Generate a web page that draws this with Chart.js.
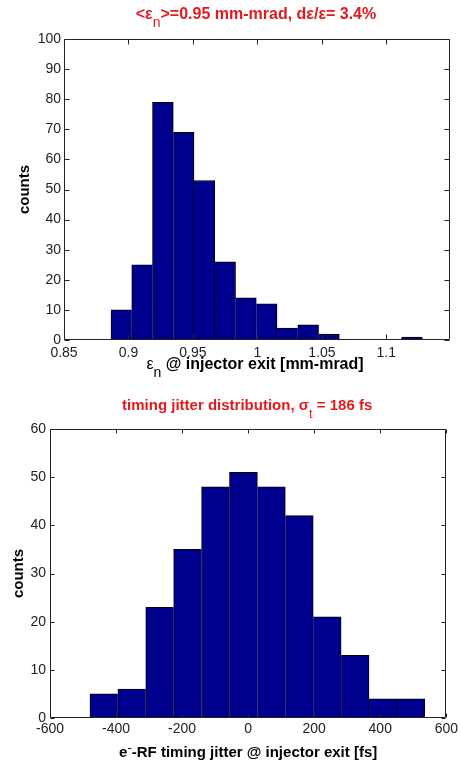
<!DOCTYPE html>
<html>
<head>
<meta charset="utf-8">
<script src="https://cdn.jsdelivr.net/npm/chart.js@4.4.1/dist/chart.umd.min.js"></script>
<style>
    html, body { margin: 0; padding: 0; background: #fff; }
    body { width: 461px; height: 765px; position: relative; overflow: hidden; }
    canvas { position: absolute; left: 0; }
    #emitChart { top: 0; }
    #jitterChart { top: 385px; }
</style>
</head>
<body>
<canvas id="emitChart" width="461" height="385"></canvas>
<canvas id="jitterChart" width="461" height="380"></canvas>
<script>
// ─── DATA ───
// emittance histogram (bin centres, mm-mrad)
const emitBins = [0.8945, 0.9106, 0.9267, 0.9428, 0.9589, 0.9750, 0.9911, 1.0072,
                  1.0233, 1.0394, 1.0555, 1.0716, 1.0877, 1.1038, 1.1199];
const emitCounts = [10, 25, 79, 69, 53, 26, 14, 12, 4, 5, 2, 0, 0, 0, 1];
const emitTicks = [0.85, 0.9, 0.95, 1, 1.05, 1.1];
const emitCountTicks = [0, 10, 20, 30, 40, 50, 60, 70, 80, 90, 100];

// timing jitter histogram (bin centres, fs)
const jitterBins = [-436.8, -352.3, -267.8, -183.3, -98.8, -14.3, 70.2, 154.7,
                    239.2, 323.7, 408.2, 492.7];
const jitterCounts = [5, 6, 23, 35, 48, 51, 48, 42, 21, 13, 4, 4];
const jitterTicks = [-600, -400, -200, 0, 200, 400, 600];
const jitterCountTicks = [0, 10, 20, 30, 40, 50, 60];

(function () {
    'use strict';

    const FONT = '"Liberation Sans", Arial, sans-serif';
    const BAR = '#00008f';
    const INK = '#222';
    const RED = '#e3191c';

    // ─── RICH TEXT (sub / superscripts) ───
    function drawRich(ctx, parts, cx, cy, size, color) {
        const fontOf = p => (p.sub || p.sup)
            ? `${size - 2}px ${FONT}`
            : `${p.normal ? '' : 'bold '}${size}px ${FONT}`;
        let w = 0;
        parts.forEach(p => { ctx.font = fontOf(p); w += ctx.measureText(p.t).width; });
        let x = cx - w / 2;
        ctx.fillStyle = color;
        ctx.textAlign = 'left';
        ctx.textBaseline = 'middle';
        parts.forEach(p => {
            ctx.font = fontOf(p);
            const dy = p.sub ? 8 : p.sup ? -5 : 0;
            ctx.fillText(p.t, x, cy + dy);
            x += ctx.measureText(p.t).width;
        });
    }

    // ─── MATLAB STYLE BOX + INNER TICKS + TITLES ───
    const matlabPlugin = {
        id: 'matlab',
        afterDraw(chart, args, o) {
            const { ctx, chartArea: a, scales: { x, y } } = chart;
            const L = o.tickLen;
            ctx.save();
            ctx.strokeStyle = INK;
            ctx.lineWidth = 1;
            const l = Math.round(a.left) + 0.5, r = Math.round(a.right) - 0.5;
            const t = Math.round(a.top) + 0.5, b = Math.round(a.bottom) - 0.5;
            ctx.beginPath();
            ctx.rect(l, t, r - l, b - t);
            x.ticks.forEach(tk => {
                const px = Math.round(x.getPixelForValue(tk.value)) + 0.5;
                ctx.moveTo(px, b); ctx.lineTo(px, b - L);
                ctx.moveTo(px, t); ctx.lineTo(px, t + L);
            });
            y.ticks.forEach(tk => {
                const py = Math.round(y.getPixelForValue(tk.value)) + 0.5;
                ctx.moveTo(l, py); ctx.lineTo(l + L, py);
                ctx.moveTo(r, py); ctx.lineTo(r - L, py);
            });
            ctx.stroke();

            const cx = (a.left + a.right) / 2;
            drawRich(ctx, o.title, cx + o.titleDx, o.titleY, o.size, RED);
            drawRich(ctx, o.xTitle, cx + o.xTitleDx, o.xTitleY, o.size, '#000');
            ctx.restore();
        }
    };

    // one border line per shared edge, drawn by the taller bar
    function edgeWidths(counts) {
        return c => {
            const i = c.dataIndex, h = counts[i];
            const prev = i > 0 ? counts[i - 1] : -1;
            const next = i < counts.length - 1 ? counts[i + 1] : -1;
            return { top: 1, bottom: 0, left: h > prev ? 1 : 0, right: h >= next ? 1 : 0 };
        };
    }

    function histChart(id, cfg) {
        return new Chart(document.getElementById(id), {
            type: 'bar',
            data: {
                datasets: [{
                    data: cfg.bins.map((b, i) => ({ x: b, y: cfg.counts[i] })),
                    backgroundColor: BAR,
                    borderColor: '#000',
                    borderWidth: edgeWidths(cfg.counts),
                    borderSkipped: false,
                    barPercentage: 1,
                    categoryPercentage: 1,
                    grouped: false
                }]
            },
            options: {
                responsive: false,
                animation: false,
                events: [],
                layout: { padding: cfg.padding },
                plugins: {
                    legend: { display: false },
                    tooltip: { enabled: false },
                    matlab: cfg.deco
                },
                scales: {
                    x: {
                        type: 'linear', offset: false,
                        min: cfg.xMin, max: cfg.xMax,
                        grid: { display: false, drawTicks: false }, border: { display: false },
                        afterBuildTicks: s => { s.ticks = cfg.xTicks.map(v => ({ value: v })); },
                        afterFit: s => { s.height = cfg.xAxisH; },
                        ticks: {
                            color: INK, padding: cfg.xPad, maxRotation: 0, autoSkip: false,
                            font: { family: FONT, size: 14 },
                            callback: v => String(+v.toFixed(2))
                        }
                    },
                    y: {
                        min: cfg.yTicks[0], max: cfg.yTicks[cfg.yTicks.length - 1],
                        grid: { display: false, drawTicks: false }, border: { display: false },
                        afterBuildTicks: s => { s.ticks = cfg.yTicks.map(v => ({ value: v })); },
                        afterFit: s => { s.width = cfg.yAxisW; },
                        ticks: { color: INK, padding: cfg.yPad, font: { family: FONT, size: 14 } },
                        title: {
                            display: true, text: 'counts', color: '#000',
                            font: { family: FONT, size: 15, weight: 'bold' },
                            padding: { top: cfg.yTitlePad, bottom: 0 }
                        }
                    }
                }
            },
            plugins: [matlabPlugin]
        });
    }

    // ─── EMITTANCE ───
    histChart('emitChart', {
        bins: emitBins, counts: emitCounts,
        xMin: 0.85, xMax: 1.1494, xTicks: emitTicks, yTicks: emitCountTicks,
        padding: { top: 39, right: 11, left: 0, bottom: 0 },
        xAxisH: 45, yAxisW: 64, xPad: 5, yPad: 3, yTitlePad: 16,
        deco: {
            tickLen: 5, size: 16,
            title: [{ t: '<ε' }, { t: 'n', sub: true }, { t: '>=0.95 mm-mrad, dε/ε= 3.4%' }],
            titleY: 15, titleDx: -1,
            xTitle: [{ t: 'ε', normal: true }, { t: 'n', sub: true }, { t: ' @ injector exit [mm-mrad]' }],
            xTitleY: 365, xTitleDx: -2
        }
    });

    // ─── TIMING JITTER ───
    histChart('jitterChart', {
        bins: jitterBins, counts: jitterCounts,
        xMin: -600, xMax: 600, xTicks: jitterTicks, yTicks: jitterCountTicks,
        padding: { top: 44, right: 14, left: 0, bottom: 0 },
        xAxisH: 47, yAxisW: 50, xPad: 3, yPad: 4, yTitlePad: 10,
        deco: {
            tickLen: 4, size: 15,
            title: [{ t: 'timing jitter distribution, σ' }, { t: 't', sub: true }, { t: ' = 186 fs' }],
            titleY: 21, titleDx: -1,
            xTitle: [{ t: 'e' }, { t: '-', sup: true }, { t: '-RF timing jitter @ injector exit [fs]' }],
            xTitleY: 368, xTitleDx: 0
        }
    });
})();
</script>
</body>
</html>
